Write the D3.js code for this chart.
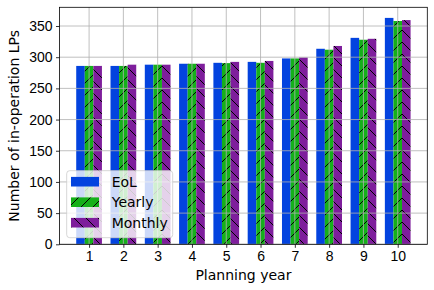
<!DOCTYPE html>
<html>
<head>
<meta charset="utf-8">
<script src="https://cdn.jsdelivr.net/npm/d3@7"></script>
<style>
  html, body { margin: 0; padding: 0; background: #fff; }
  svg { display: block; font-family: "DejaVu Sans", sans-serif; }
</style>
</head>
<body>
<div id="chart"></div>
<script>
const years   = [1, 2, 3, 4, 5, 6, 7, 8, 9, 10];
const eol     = [286, 286, 288, 289.5, 291, 292.5, 298, 313.5, 331, 363];
const yearly  = [286, 286, 288, 289.5, 290.5, 291, 298, 312, 328, 358];
const monthly = [286, 288, 288, 289.5, 292.5, 294, 299.5, 318, 329.5, 359.5];
const yTicks  = [0, 50, 100, 150, 200, 250, 300, 350];
const seriesNames = ['EoL', 'Yearly', 'Monthly'];

const blue = '#0343df', green = '#15b01a', purple = '#7e1e9c';
const grid = '#b0b0b0', ink = '#000';

const W = 434, H = 290;
const L = 59.5, R = 427.3, T = 7.3, B = 244.3;
const fs = 14;

const svg = d3.select('#chart').append('svg').attr('width', W).attr('height', H);

// hatch patterns, 12px period anchored to the page like matplotlib
const defs = svg.append('defs');
function hatch(id, color, dir) {
  const p = defs.append('pattern').attr('id', id)
    .attr('patternUnits', 'userSpaceOnUse').attr('width', 12).attr('height', 12);
  p.append('rect').attr('width', 12).attr('height', 12).attr('fill', color);
  const d = dir === '/'
    ? 'M-3,3 L3,-3 M0,12 L12,0 M9,15 L15,9'
    : 'M-3,9 L3,15 M0,0 L12,12 M9,-3 L15,3';
  p.append('path').attr('d', d).attr('stroke', '#000').attr('stroke-width', 1)
    .attr('shape-rendering', 'crispEdges');
}
hatch('hYearly', green, '/');
hatch('hMonthly', purple, '\\');

const fills = [blue, 'url(#hYearly)', 'url(#hMonthly)'];
const seriesVals = [eol, yearly, monthly];

const x = d3.scaleLinear().domain([0.1375, 10.8625]).range([L, R]);
const y = d3.scaleLinear().domain([0, 380]).range([B, T]);
const bw = 0.25;

// bars
seriesVals.forEach((vals, s) => {
  svg.append('g').selectAll('rect').data(years).join('rect')
    .attr('x', (d, i) => x(d + (s - 1) * bw - bw / 2))
    .attr('width', x(bw) - x(0))
    .attr('y', (d, i) => y(vals[i]))
    .attr('height', (d, i) => y(0) - y(vals[i]))
    .attr('fill', fills[s]);
});

// grid on top of bars
const gx = svg.append('g');
gx.selectAll('line.v').data(years).join('line').attr('class', 'v')
  .attr('x1', d => x(d)).attr('x2', d => x(d)).attr('y1', T).attr('y2', B)
  .attr('stroke', grid).attr('stroke-width', 0.8);
gx.selectAll('line.h').data(yTicks).join('line').attr('class', 'h')
  .attr('x1', L).attr('x2', R).attr('y1', d => y(d)).attr('y2', d => y(d))
  .attr('stroke', grid).attr('stroke-width', 0.8);

// axes
const xAxis = svg.append('g').attr('transform', `translate(0,${B})`)
  .call(d3.axisBottom(x).tickValues(years).tickSize(3.5).tickPadding(3.5).tickFormat(d3.format('d')));
const yAxis = svg.append('g').attr('transform', `translate(${L},0)`)
  .call(d3.axisLeft(y).tickValues(yTicks).tickSize(3.5).tickPadding(3.5));
[xAxis, yAxis].forEach(a => {
  a.select('.domain').remove();
  a.selectAll('line').attr('stroke', ink).attr('stroke-width', 0.8);
  a.selectAll('text').style('font-size', fs + 'px').attr('fill', ink);
});

svg.append('rect').attr('x', L).attr('y', T).attr('width', R - L).attr('height', B - T)
  .attr('fill', 'none').attr('stroke', ink).attr('stroke-width', 0.8);

svg.append('text').attr('x', (L + R) / 2).attr('y', 280)
  .attr('text-anchor', 'middle').style('font-size', fs + 'px').attr('fill', ink)
  .text('Planning year');
svg.append('text').attr('transform', `translate(19,${(T + B) / 2}) rotate(-90)`)
  .attr('text-anchor', 'middle').style('font-size', fs + 'px').attr('fill', ink)
  .text('Number of in-operation LPs');

// legend
const lg = svg.append('g');
lg.append('rect').attr('x', 66.7).attr('y', 170.7).attr('width', 106).attr('height', 67)
  .attr('rx', 3).attr('fill', '#fff').attr('fill-opacity', 0.8)
  .attr('stroke', '#cccccc').attr('stroke-width', 0.8);
seriesNames.forEach((name, i) => {
  const cy = 181.7 + i * 20.5;
  lg.append('rect').attr('x', 71).attr('y', cy - 4.8).attr('width', 28).attr('height', 9.6)
    .attr('fill', fills[i]);
  lg.append('text').attr('x', 111.7).attr('y', cy).attr('dy', '0.35em')
    .style('font-size', fs + 'px').attr('fill', ink).text(name);
});
</script>
</body>
</html>
